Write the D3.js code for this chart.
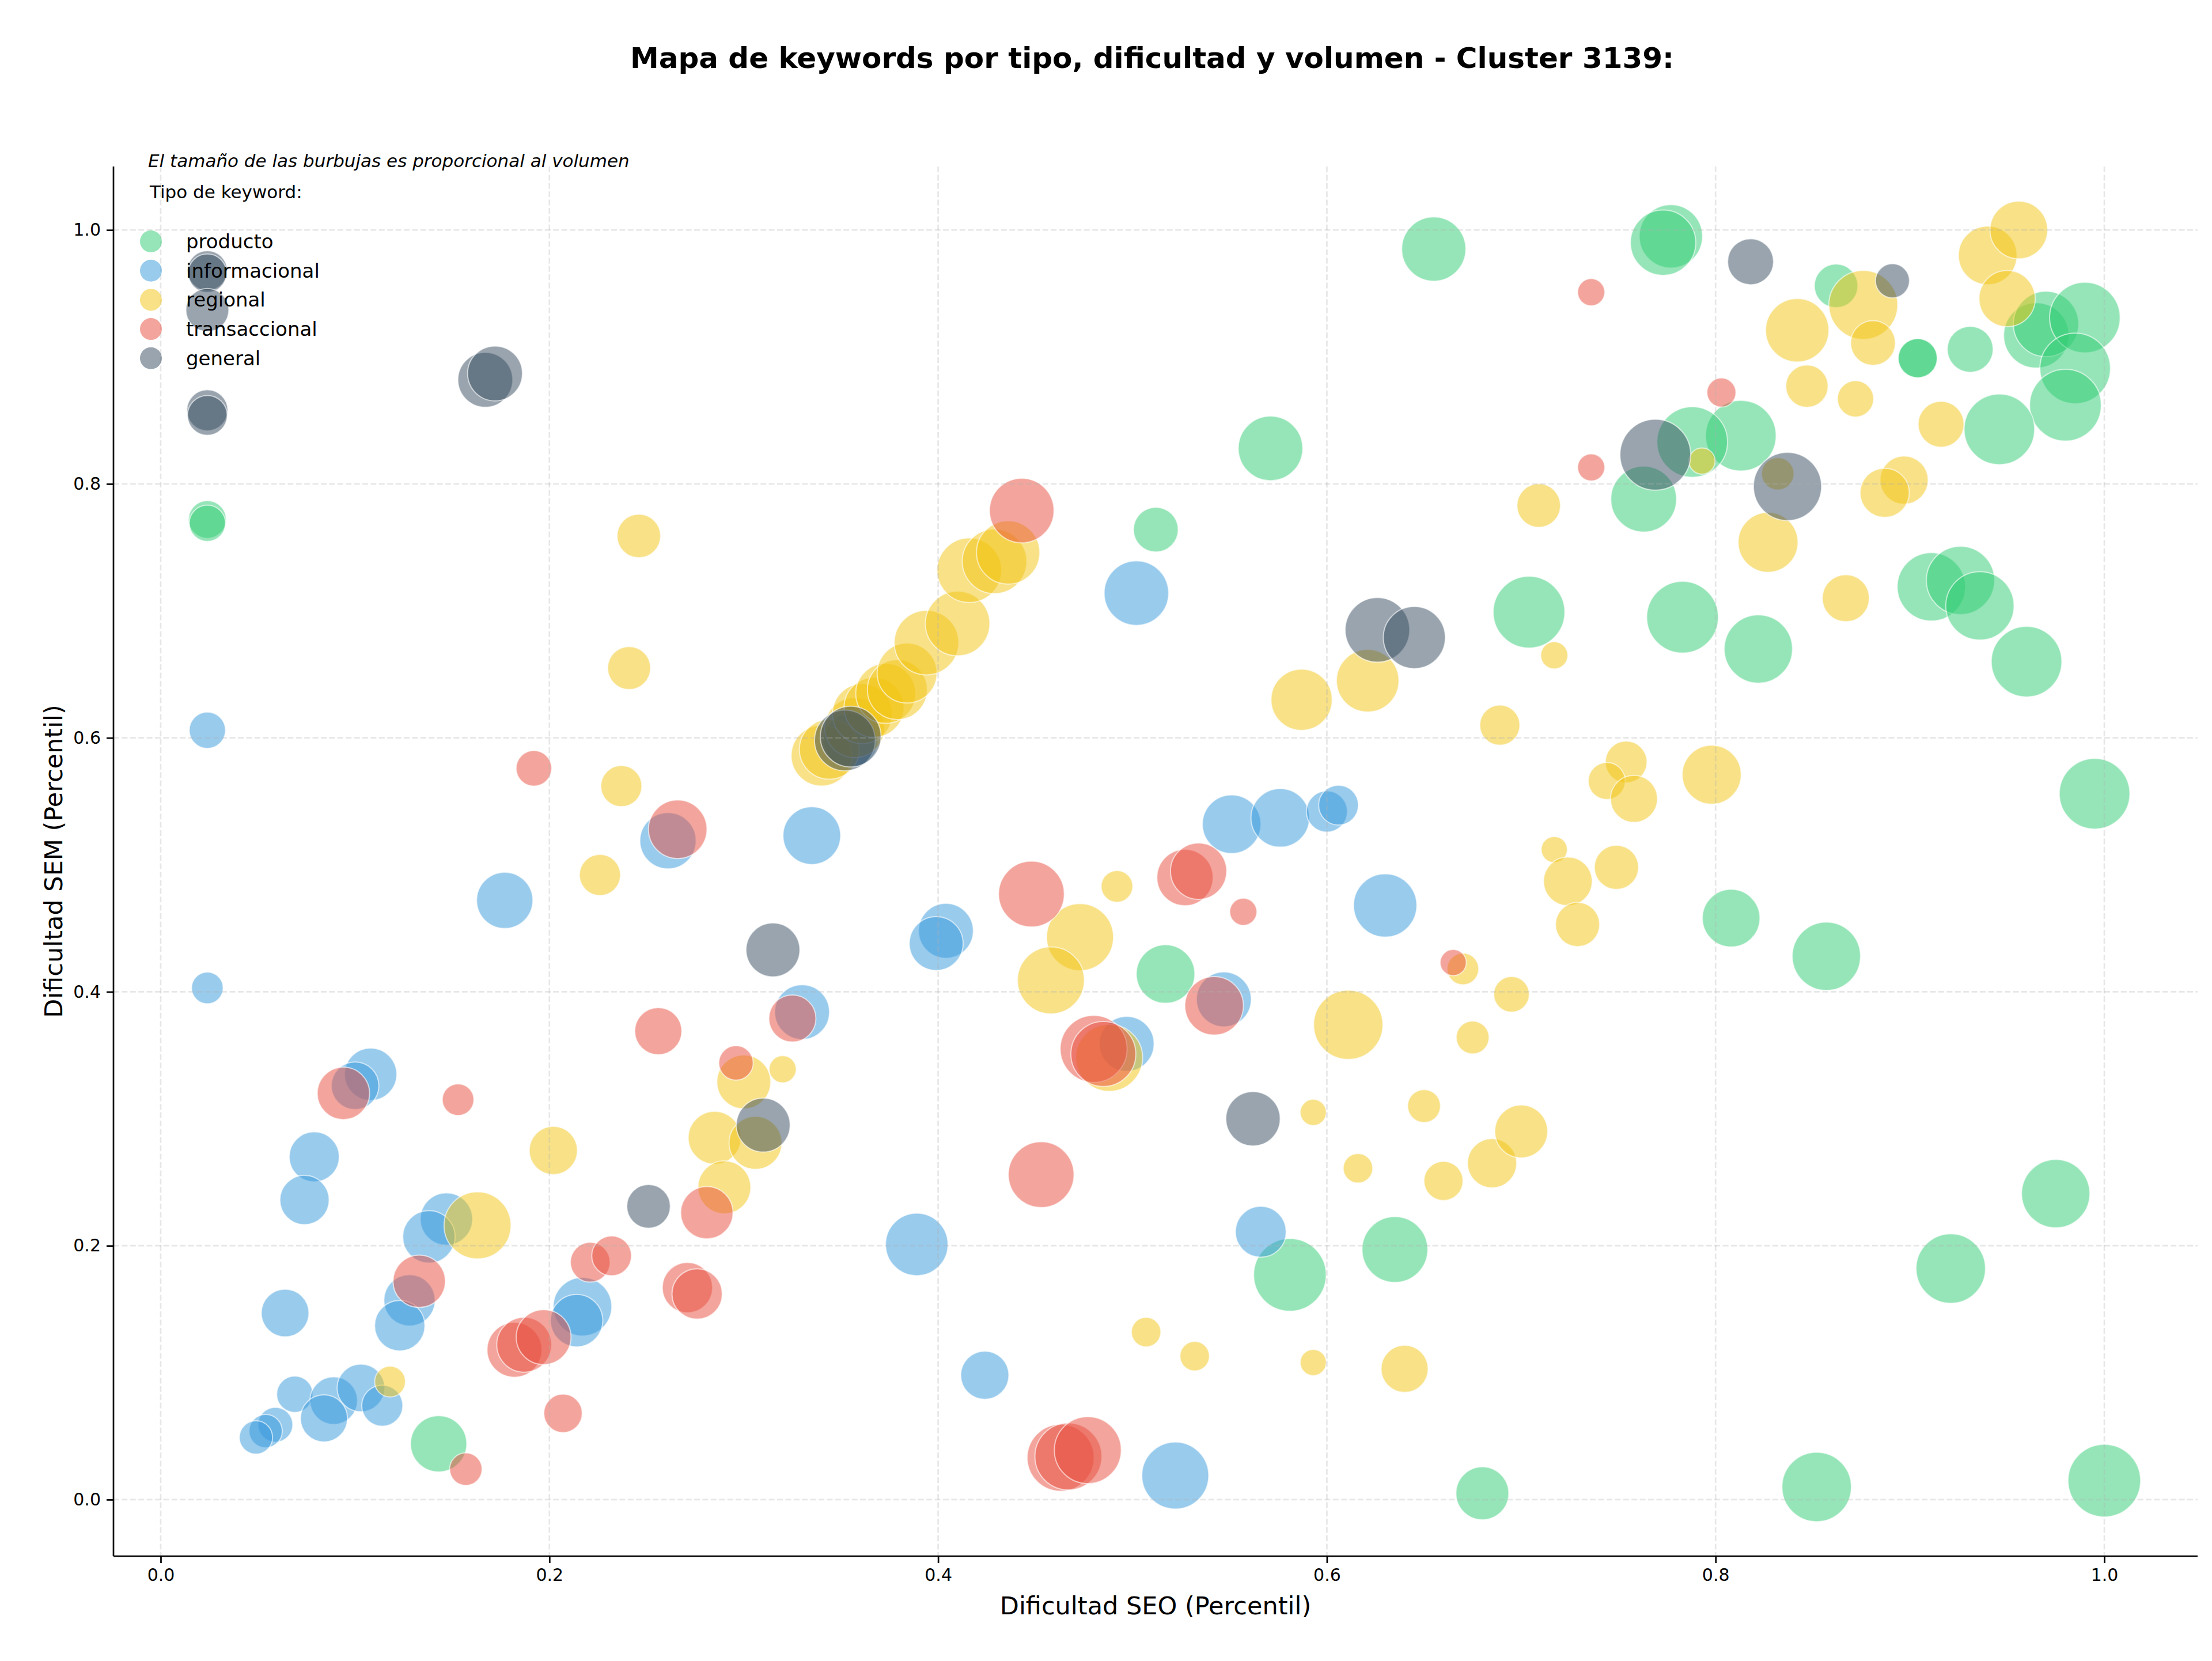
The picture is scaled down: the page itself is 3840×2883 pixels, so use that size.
<!DOCTYPE html>
<meta charset="utf-8">
<style>
body { margin: 0; background: #fff; }
svg { font-family: "DejaVu Sans", sans-serif; }
</style>
<body>
<script src="https://cdn.jsdelivr.net/npm/d3@7/dist/d3.min.js"></script>
<script>

// keyword types, in drawing order
var tipos = ["producto", "informacional", "regional", "transaccional", "general"];
var colores = ["#2ecc71", "#3498db", "#f1c40f", "#e74c3c", "#34495e"];

// each point: [dificultad SEO, dificultad SEM, volumen]
var producto = [
  [0.655,0.985,780],[0.777,0.995,760],[0.773,0.990,810],[0.862,0.956,360],
  [0.904,0.899,290],[0.904,0.899,290],[0.931,0.906,400],[0.965,0.917,810],
  [0.970,0.926,810],[0.990,0.931,945],[0.985,0.891,945],[0.980,0.862,975],
  [0.946,0.843,945],[0.813,0.838,945],[0.788,0.833,945],[0.763,0.788,820],
  [0.571,0.828,790],[0.512,0.764,380],[0.704,0.699,975],[0.783,0.695,975],
  [0.822,0.670,885],[0.911,0.719,885],[0.926,0.724,885],[0.936,0.704,885],
  [0.960,0.660,945],[0.995,0.556,945],[0.808,0.458,630],[0.857,0.428,885],
  [0.517,0.414,650],[0.635,0.197,820],[0.581,0.177,1000],[0.975,0.241,885],
  [0.921,0.182,915],[0.143,0.044,600],[0.680,0.005,530],[0.852,0.010,915],
  [1.000,0.015,1000],[0.024,0.772,270],[0.024,0.769,250]
];

var informacional = [
  [0.024,0.606,250],[0.024,0.403,190],[0.177,0.472,600],[0.261,0.519,600],
  [0.335,0.523,630],[0.502,0.714,790],[0.551,0.532,650],[0.576,0.537,650],
  [0.600,0.542,320],[0.606,0.547,300],[0.630,0.468,760],[0.404,0.448,570],
  [0.399,0.438,550],[0.330,0.384,570],[0.547,0.394,570],[0.497,0.359,570],
  [0.355,0.598,550],[0.108,0.335,520],[0.100,0.326,430],[0.079,0.270,475],
  [0.074,0.236,460],[0.147,0.221,520],[0.138,0.207,520],[0.128,0.157,500],
  [0.123,0.137,480],[0.064,0.147,430],[0.217,0.152,650],[0.214,0.141,520],
  [0.069,0.083,250],[0.089,0.078,430],[0.084,0.064,420],[0.103,0.088,430],
  [0.114,0.074,320],[0.059,0.059,230],[0.054,0.054,210],[0.049,0.049,210],
  [0.389,0.201,740],[0.424,0.098,440],[0.566,0.211,490],[0.522,0.019,850]
];

var regional = [
  [0.340,0.586,700],[0.344,0.591,680],[0.357,0.608,680],[0.361,0.619,680],
  [0.367,0.624,680],[0.373,0.635,680],[0.379,0.638,680],[0.384,0.651,680],
  [0.394,0.675,790],[0.410,0.690,790],[0.416,0.732,790],[0.429,0.739,790],
  [0.436,0.746,760],[0.246,0.759,360],[0.241,0.655,350],[0.237,0.562,320],
  [0.226,0.492,320],[0.202,0.275,440],[0.163,0.216,850],[0.118,0.093,180],
  [0.285,0.285,530],[0.306,0.281,530],[0.300,0.329,550],[0.290,0.246,530],
  [0.320,0.339,140],[0.473,0.443,850],[0.458,0.409,850],[0.492,0.483,190],
  [0.488,0.348,850],[0.587,0.630,710],[0.621,0.645,740],[0.611,0.374,910],
  [0.593,0.305,130],[0.616,0.261,165],[0.650,0.310,205],[0.660,0.251,290],
  [0.685,0.265,460],[0.700,0.290,530],[0.675,0.364,205],[0.695,0.398,240],
  [0.670,0.418,190],[0.709,0.783,360],[0.689,0.610,305],[0.717,0.665,140],
  [0.717,0.512,130],[0.724,0.487,450],[0.749,0.498,370],[0.729,0.453,370],
  [0.754,0.581,330],[0.744,0.566,260],[0.758,0.552,420],[0.798,0.571,660],
  [0.827,0.754,680],[0.867,0.710,420],[0.897,0.803,440],[0.887,0.793,460],
  [0.916,0.847,400],[0.847,0.877,340],[0.872,0.867,250],[0.842,0.921,760],
  [0.876,0.941,900],[0.881,0.911,380],[0.940,0.980,650],[0.956,1.000,630],
  [0.950,0.946,600],[0.793,0.818,130],[0.832,0.808,200],[0.507,0.132,165],
  [0.532,0.113,165],[0.593,0.108,130],[0.640,0.103,420]
];

var transaccional = [
  [0.443,0.779,790],[0.192,0.576,240],[0.266,0.528,650],[0.153,0.315,190],
  [0.094,0.320,520],[0.133,0.172,520],[0.256,0.369,420],[0.296,0.344,225],
  [0.325,0.379,420],[0.281,0.226,520],[0.221,0.187,300],[0.232,0.192,300],
  [0.271,0.167,480],[0.276,0.162,480],[0.182,0.118,570],[0.187,0.122,570],
  [0.197,0.128,570],[0.207,0.068,280],[0.157,0.024,200],[0.448,0.477,820],
  [0.453,0.256,820],[0.480,0.355,850],[0.485,0.351,800],[0.527,0.490,600],
  [0.534,0.495,600],[0.542,0.389,650],[0.557,0.463,140],[0.463,0.033,850],
  [0.467,0.034,850],[0.477,0.039,850],[0.665,0.423,130],[0.736,0.951,140],
  [0.736,0.813,140],[0.803,0.872,160]
];

var general = [
  [0.024,0.968,300],[0.024,0.966,280],[0.024,0.937,350],[0.024,0.858,320],
  [0.024,0.854,300],[0.167,0.882,570],[0.172,0.887,570],[0.315,0.433,550],
  [0.310,0.295,550],[0.251,0.231,360],[0.562,0.300,560],[0.626,0.685,790],
  [0.645,0.679,730],[0.769,0.823,950],[0.837,0.798,880],[0.818,0.975,400],
  [0.891,0.960,220],[0.352,0.598,700],[0.355,0.601,700]
];

var ticks = [0, 0.2, 0.4, 0.6, 0.8, 1.0];

var series = [producto, informacional, regional, transaccional, general];

// figure layout (pixels)
var W = 3840, H = 2883;
var margin = {top: 289, right: 25, bottom: 182, left: 197},
    width = W - margin.left - margin.right,
    height = H - margin.top - margin.bottom;

var x = d3.scaleLinear().domain([-0.0243, 1.048]).range([0, width]);
var y = d3.scaleLinear().domain([-0.0445, 1.05]).range([height, 0]);
var r = d3.scaleSqrt().domain([0, 1000]).range([0, 63]);
var color = d3.scaleOrdinal().domain(tipos).range(colores);

var svg = d3.select("body").append("svg")
    .attr("width", W)
    .attr("height", H);

svg.append("rect").attr("width", W).attr("height", H).attr("fill", "#fff");

var g = svg.append("g")
    .attr("transform", "translate(" + margin.left + "," + margin.top + ")");

// bubbles, one layer per type
tipos.forEach(function(t, i) {
  g.append("g").selectAll("circle")
    .data(series[i])
    .enter().append("circle")
      .attr("cx", function(d) { return x(d[0]); })
      .attr("cy", function(d) { return y(d[1]); })
      .attr("r", function(d) { return r(d[2]); })
      .attr("fill", color(t))
      .attr("fill-opacity", 0.5)
      .attr("stroke", "#fff")
      .attr("stroke-opacity", 0.6)
      .attr("stroke-width", 2);
});

// dashed grid
var grid = g.append("g")
    .attr("stroke", "#b0b0b0")
    .attr("stroke-opacity", 0.3)
    .attr("stroke-width", 2.7)
    .attr("stroke-dasharray", "10,4.4");
grid.selectAll("line.gx").data(ticks).enter().append("line")
    .attr("x1", function(d) { return x(d); }).attr("x2", function(d) { return x(d); })
    .attr("y1", 0).attr("y2", height);
grid.selectAll("line.gy").data(ticks).enter().append("line")
    .attr("y1", function(d) { return y(d); }).attr("y2", function(d) { return y(d); })
    .attr("x1", 0).attr("x2", width);

// axes
var xAxis = g.append("g")
    .attr("transform", "translate(0," + height + ")")
    .call(d3.axisBottom(x).tickValues(ticks).tickFormat(d3.format(".1f"))
      .tickSize(12).tickPadding(10).tickSizeOuter(0));
var yAxis = g.append("g")
    .call(d3.axisLeft(y).tickValues(ticks).tickFormat(d3.format(".1f"))
      .tickSize(12).tickPadding(10).tickSizeOuter(0));

[xAxis, yAxis].forEach(function(a) {
  a.select(".domain").attr("stroke", "#000").attr("stroke-width", 2.7);
  a.selectAll(".tick line").attr("stroke", "#000").attr("stroke-width", 2.7);
  a.selectAll(".tick text").attr("font-size", 30).attr("fill", "#000")
    .attr("font-family", "DejaVu Sans");
});
// full-length spines
xAxis.select(".domain").attr("d", "M0,0H" + width);
yAxis.select(".domain").attr("d", "M0,0V" + height);

// axis labels
svg.append("text")
    .attr("x", margin.left + width / 2)
    .attr("y", 2802)
    .attr("text-anchor", "middle")
    .attr("font-size", 43)
    .text("Dificultad SEO (Percentil)");

svg.append("text")
    .attr("transform", "translate(93," + (margin.top + height / 2) + ") rotate(-90)")
    .attr("text-anchor", "middle")
    .attr("dominant-baseline", "central")
    .attr("font-size", 43)
    .text("Dificultad SEM (Percentil)");

// title
svg.append("text")
    .attr("x", 2000)
    .attr("y", 118)
    .attr("text-anchor", "middle")
    .attr("font-size", 50)
    .attr("font-weight", "bold")
    .text("Mapa de keywords por tipo, dificultad y volumen - Cluster 3139:");

// notes
svg.append("text")
    .attr("x", 257)
    .attr("y", 290)
    .attr("font-size", 31)
    .attr("font-style", "italic")
    .text("El tamaño de las burbujas es proporcional al volumen");

svg.append("text")
    .attr("x", 260)
    .attr("y", 344)
    .attr("font-size", 31)
    .text("Tipo de keyword:");

// legend
var legend = svg.append("g").selectAll("g")
    .data(tipos)
    .enter().append("g")
      .attr("transform", function(d, i) { return "translate(262," + (419 + i * 50.7) + ")"; });

legend.append("circle")
    .attr("r", 19)
    .attr("fill", function(d) { return color(d); })
    .attr("fill-opacity", 0.5);

legend.append("text")
    .attr("x", 61)
    .attr("dominant-baseline", "central")
    .attr("font-size", 34)
    .text(function(d) { return d; });

</script>
</body>
